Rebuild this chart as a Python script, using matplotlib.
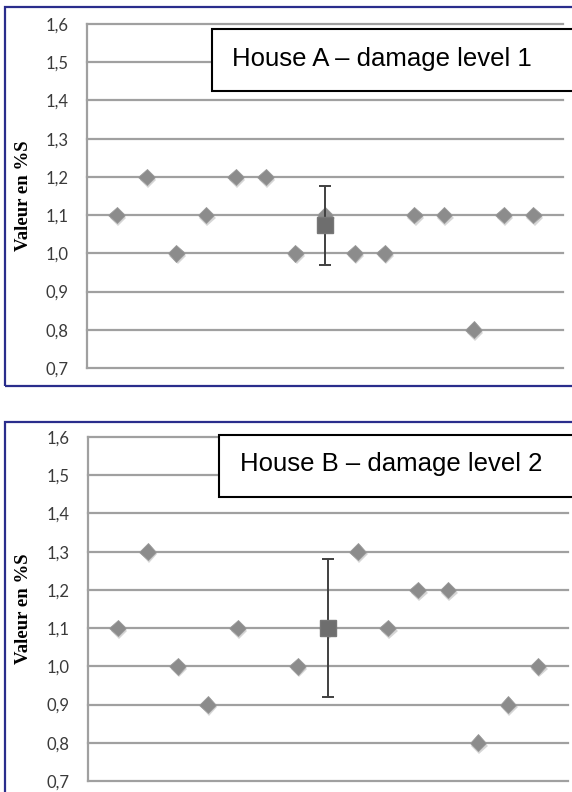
import matplotlib
matplotlib.use('Agg')
import matplotlib.pyplot as plt
import matplotlib.patheffects as pe
from matplotlib.patches import Rectangle

# data
x_a = [1, 2, 3, 4, 5, 6, 7, 8, 9, 10, 11, 12, 13, 14, 15]
values_a = [1.1, 1.2, 1.0, 1.1, 1.2, 1.2, 1.0, 1.1, 1.0, 1.0, 1.1, 1.1, 0.8, 1.1, 1.1]
mean_a = 1.073
err_a = 0.103

x_b = [1, 2, 3, 4, 5, 7, 8, 9, 10, 11, 12, 13, 14, 15]
values_b = [1.1, 1.3, 1.0, 0.9, 1.1, 1.0, 1.1, 1.3, 1.1, 1.2, 1.2, 0.8, 0.9, 1.0]
mean_b = 1.1
err_b = 0.18

mean_pos = 8
y_ticks = [0.7, 0.8, 0.9, 1.0, 1.1, 1.2, 1.3, 1.4, 1.5, 1.6]
y_tick_labels = ['0,7', '0,8', '0,9', '1,0', '1,1', '1,2', '1,3', '1,4', '1,5', '1,6']
titles = ['House A – damage level 1', 'House B – damage level 2']

W, H = 572, 792
fig = plt.figure(figsize=(W / 100, H / 100), dpi=100)


def px_axes(left, top, right, bottom):
    return fig.add_axes([left / W, 1 - bottom / H, (right - left) / W, (bottom - top) / H])


def frame(left, top, right, bottom, **kw):
    fig.add_artist(Rectangle((left / W, 1 - bottom / H), (right - left) / W, (bottom - top) / H,
                             transform=fig.transFigure, **kw))


def panel(ax, xs, ys, mean, err, title, box, text_pos):
    for t in y_ticks:
        ax.axhline(t, color='#a0a0a0', lw=1.6, zorder=1, clip_on=False)
    shadow = [pe.SimplePatchShadow(offset=(1, -2), shadow_rgbFace='0.55', alpha=0.35), pe.Normal()]
    ax.plot(xs, ys, ls='none', marker='D', ms=8.5, color='#8c8c8c', mec='#9a9a9a', mew=0.6,
            zorder=3, path_effects=shadow)
    ax.errorbar([mean_pos], [mean], yerr=[err], fmt='s', ms=12, color='#6e6e6e', mec='#777777',
                ecolor='#404040', elinewidth=1.4, capsize=4, capthick=1.4, zorder=4)
    ax.set_xlim(0, 16)
    ax.set_ylim(0.7, 1.6)
    ax.set_xticks([])
    ax.set_yticks(y_ticks)
    ax.set_yticklabels(y_tick_labels, family='Lato', fontsize=12, color='#3a3a3a')
    ax.tick_params(axis='y', length=0, pad=13)
    for s in ['top', 'right', 'bottom']:
        ax.spines[s].set_visible(False)
    ax.spines['left'].set_color('#a0a0a0')
    ax.spines['left'].set_linewidth(1.6)
    ax.set_ylabel('Valeur en %S', family='Liberation Serif', fontweight='bold', fontsize=13.5)
    ax.yaxis.set_label_coords(-55 / 476, 0.5)

    bl, bt, bb = box
    frame(bl, bt, W + 10, bb, facecolor='white', edgecolor='black', lw=1.5, zorder=5)
    fig.text(text_pos[0] / W, 1 - text_pos[1] / H, title, family='Liberation Sans', fontsize=18.5,
             va='baseline', ha='left', zorder=6)


ax1 = px_axes(87, 24, 563, 368)
panel(ax1, x_a, values_a, mean_a, err_a, titles[0], (212, 29, 91), (232, 66))
frame(5, 7, W + 10, 386, fill=False, edgecolor='#2a2d8c', lw=1.6)

ax2 = px_axes(87.5, 437, 568, 781)
panel(ax2, x_b, values_b, mean_b, err_b, titles[1], (219, 435, 497), (240, 471))
frame(5, 422, W + 10, H + 10, fill=False, edgecolor='#2a2d8c', lw=1.6)

fig.savefig('out.png', dpi=100)
